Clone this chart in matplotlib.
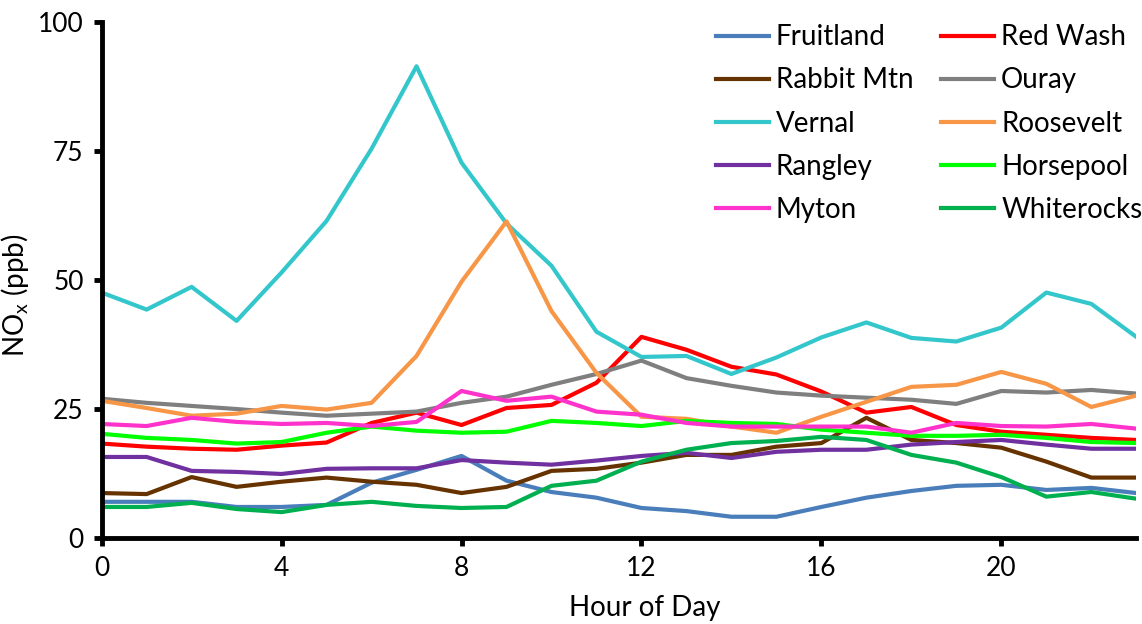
import matplotlib
matplotlib.use("Agg")
import matplotlib.pyplot as plt

plt.rcParams['font.family'] = ['Lato', 'DejaVu Sans']
plt.rcParams['mathtext.default'] = 'regular'

hours = list(range(24))

# hourly mean NOx (ppb) per site
fruitland = [7.0, 7.0, 7.0, 6.0, 6.0, 6.4, 10.7, 13.2, 15.9, 11.1, 8.9, 7.8,
             5.8, 5.2, 4.1, 4.1, 6.0, 7.8, 9.1, 10.1, 10.3, 9.3, 9.7, 8.7]
red_wash = [18.3, 17.7, 17.3, 17.1, 17.9, 18.5, 22.3, 24.3, 21.9, 25.2, 25.8, 30.1,
            39.0, 36.5, 33.2, 31.7, 28.4, 24.3, 25.4, 21.9, 20.6, 20.0, 19.4, 19.0]
rabbit_mtn = [8.7, 8.5, 11.8, 9.9, 10.9, 11.7, 10.9, 10.3, 8.7, 9.9, 13.0, 13.4,
              14.6, 16.1, 16.1, 17.7, 18.4, 23.3, 19.0, 18.4, 17.5, 14.8, 11.7, 11.7]
ouray = [27.0, 26.2, 25.6, 25.0, 24.3, 23.7, 24.1, 24.5, 26.2, 27.4, 29.7, 31.8,
         34.4, 31.0, 29.5, 28.2, 27.6, 27.2, 26.8, 26.0, 28.5, 28.2, 28.7, 28.0]
vernal = [47.6, 44.3, 48.7, 42.1, 51.5, 61.5, 75.5, 91.5, 72.8, 61.0, 52.8, 40.0,
          35.1, 35.3, 31.8, 35.0, 38.9, 41.8, 38.8, 38.1, 40.8, 47.6, 45.4, 39.0]
roosevelt = [26.6, 25.2, 23.7, 24.1, 25.6, 24.9, 26.2, 35.3, 49.7, 61.4, 44.0, 32.0,
             23.5, 23.1, 21.6, 20.4, 23.5, 26.4, 29.3, 29.7, 32.2, 29.9, 25.4, 27.6]
rangley = [15.7, 15.7, 13.0, 12.8, 12.4, 13.4, 13.5, 13.5, 15.1, 14.6, 14.2, 15.0,
           15.9, 16.5, 15.5, 16.7, 17.1, 17.1, 18.1, 18.6, 19.0, 18.1, 17.3, 17.3]
horsepool = [20.2, 19.4, 19.0, 18.3, 18.6, 20.4, 21.6, 20.8, 20.4, 20.6, 22.7, 22.3,
             21.7, 22.7, 22.3, 22.1, 21.0, 20.4, 19.8, 19.8, 20.0, 19.4, 18.6, 18.4]
myton = [22.1, 21.7, 23.3, 22.5, 22.1, 22.3, 21.7, 22.5, 28.5, 26.6, 27.4, 24.5,
         23.9, 22.3, 21.6, 21.6, 21.6, 21.6, 20.4, 22.3, 21.7, 21.6, 22.1, 21.2]
whiterocks = [6.0, 6.0, 6.8, 5.6, 5.0, 6.4, 7.0, 6.2, 5.8, 6.0, 10.1, 11.1,
              14.8, 17.1, 18.4, 18.8, 19.6, 19.0, 16.1, 14.6, 11.8, 8.0, 8.9, 7.6]

sites = ['Fruitland', 'Red Wash', 'Rabbit Mtn', 'Ouray', 'Vernal',
         'Roosevelt', 'Rangley', 'Horsepool', 'Myton', 'Whiterocks']
series = [fruitland, red_wash, rabbit_mtn, ouray, vernal,
          roosevelt, rangley, horsepool, myton, whiterocks]
colors = ['#4A7EBB', '#FF0000', '#663300', '#7F7F7F', '#33C7CC',
          '#F79646', '#7030A0', '#00FF00', '#FF33CC', '#00B050']

fig = plt.figure(figsize=(11.42, 6.24), dpi=100)
ax = fig.add_axes([0.089, 0.138, 0.906, 0.826])

lines = []
for name, vals, c in zip(sites, series, colors):
    ln, = ax.plot(hours, vals, color=c, lw=3, label=name)
    lines.append(ln)

ax.set_xlim(0, 23)
ax.set_ylim(0, 100)
ax.set_xticks([0, 4, 8, 12, 16, 20])
ax.set_yticks([0, 25, 50, 75, 100])
ax.tick_params(labelsize=19, width=3.5, length=6, direction='out',
               colors='black', pad=7)
for s in ['top', 'right']:
    ax.spines[s].set_visible(False)
for s in ['left', 'bottom']:
    ax.spines[s].set_linewidth(3.5)

ax.set_xlabel('Hour of Day', fontsize=20)
ax.xaxis.set_label_coords(0.525, -0.11)
ax.set_ylabel('NO$_x$ (ppb)', fontsize=20)
ax.yaxis.set_label_coords(-0.068, 0.47)

# legend in two columns: left column first five, right column next five
order = [0, 2, 4, 6, 8, 1, 3, 5, 7, 9]
ax.legend([lines[i] for i in order], [sites[i] for i in order],
          ncol=2, frameon=False, fontsize=20, loc='upper right',
          bbox_to_anchor=(1.03, 1.045), handlelength=1.9, handletextpad=0.25,
          columnspacing=1.0, labelspacing=0.62)

fig.savefig('out.png', dpi=100)
